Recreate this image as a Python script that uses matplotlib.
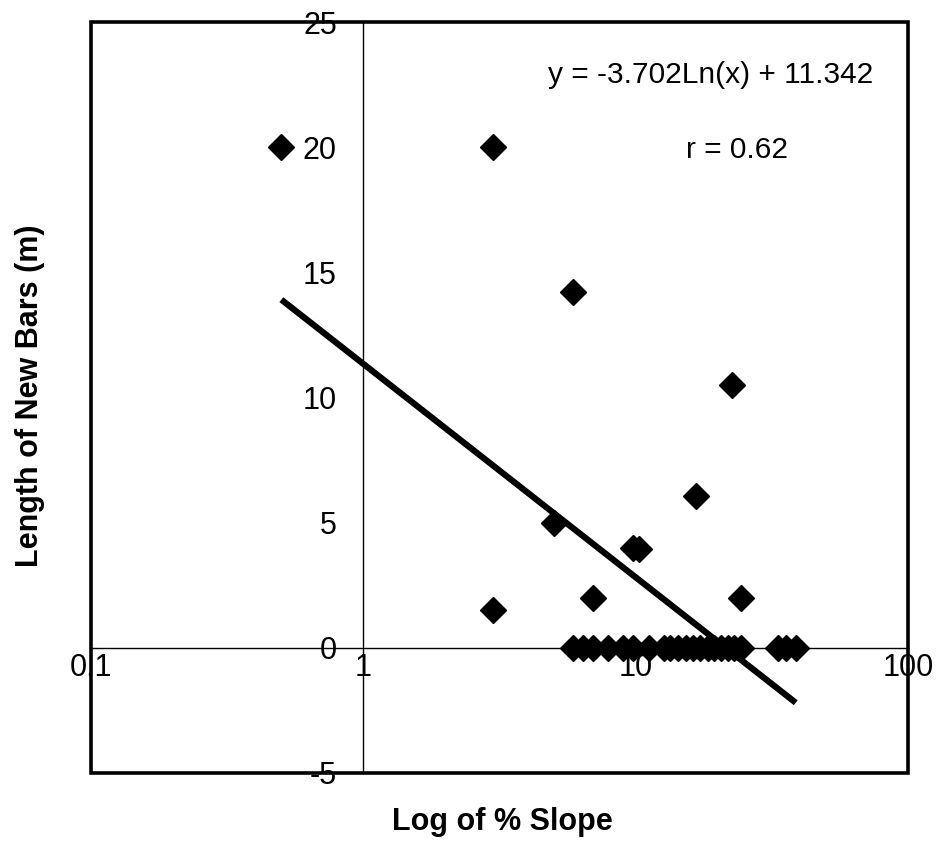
import matplotlib
matplotlib.use('Agg')
import matplotlib.pyplot as plt
import numpy as np
from matplotlib.patches import Rectangle
from matplotlib.ticker import FixedLocator, FixedFormatter, NullLocator

plt.rcParams['font.family'] = ['Liberation Sans', 'DejaVu Sans']

# ---- data ----
x_nonzero = [0.5, 3.0, 5.9, 22.5, 16.6, 5.0, 9.8, 10.3, 7.0, 24.3, 3.0]
y_nonzero = [20.0, 20.0, 14.2, 10.5, 6.05, 5.0, 4.0, 3.95, 2.0, 2.0, 1.5]
x_zero = [5.9, 6.4, 7.0, 7.9, 9.0, 9.8, 11.2, 12.7, 13.4, 14.3, 15.3, 16.2,
          17.3, 18.4, 19.4, 20.5, 21.8, 22.9, 24.3, 33.3, 35.6, 38.7]
y_zero = [0.0] * len(x_zero)

fit_slope = -3.702
fit_intercept = 11.342

x_ticks = [0.1, 1, 10, 100]
x_tick_labels = ["0.1", "1", "10", "100"]
y_ticks = [-5, 0, 5, 10, 15, 20, 25]
y_tick_labels = ["-5", "0", "5", "10", "15", "20", "25"]

equation_text = "y = -3.702Ln(x) + 11.342"
r_text = "r = 0.62"
x_label = "Log of % Slope"
y_label = "Length of New Bars (m)"

# ---- figure ----
W, H = 936, 852
fig = plt.figure(figsize=(W / 100, H / 100), dpi=100)
ax = fig.add_axes([91 / W, 1 - 773 / H, 817 / W, 751 / H])
ax.set_xscale('log')
ax.set_xlim(0.1, 100)
ax.set_ylim(-5, 25)

ax.spines['left'].set_position(('data', 1))
ax.spines['bottom'].set_position(('data', 0))
ax.spines['left'].set_linewidth(1.0)
ax.spines['bottom'].set_linewidth(1.0)
ax.spines['right'].set_visible(False)
ax.spines['top'].set_visible(False)

ax.xaxis.set_major_locator(FixedLocator(x_ticks))
ax.xaxis.set_major_formatter(FixedFormatter(x_tick_labels))
ax.xaxis.set_minor_locator(NullLocator())
ax.yaxis.set_major_locator(FixedLocator(y_ticks))
ax.yaxis.set_major_formatter(FixedFormatter(y_tick_labels))
ax.yaxis.set_minor_locator(NullLocator())
ax.tick_params(axis='y', length=0, pad=19, labelsize=22)
ax.tick_params(axis='x', length=0, pad=4, labelsize=22)

# outer box
ax.add_patch(Rectangle((0, 0), 1, 1, transform=ax.transAxes, fill=False,
                       lw=2.6, edgecolor='black', clip_on=False, zorder=5))

xs = x_nonzero + x_zero
ys = y_nonzero + y_zero
ax.plot(xs, ys, 'D', color='black', ms=13, clip_on=False, zorder=3)

x_fit = np.geomspace(min(xs), max(xs), 200)
y_fit = fit_slope * np.log(x_fit) + fit_intercept
ax.plot(x_fit, y_fit, color='black', lw=4.5, solid_capstyle='butt', zorder=4)

ax.text(0.758, 0.929, equation_text, transform=ax.transAxes, ha='center',
        va='center', fontsize=21.5)
ax.text(0.791, 0.830, r_text, transform=ax.transAxes, ha='center',
        va='center', fontsize=21.5)

fig.text(502 / W, 1 - 822 / H, x_label, ha='center', va='center',
         fontsize=22, fontweight='bold')
fig.text(30 / W, 1 - 396 / H, y_label, ha='center', va='center',
         fontsize=22, fontweight='bold', rotation=90)

fig.savefig('out.png', dpi=100, facecolor='white')
